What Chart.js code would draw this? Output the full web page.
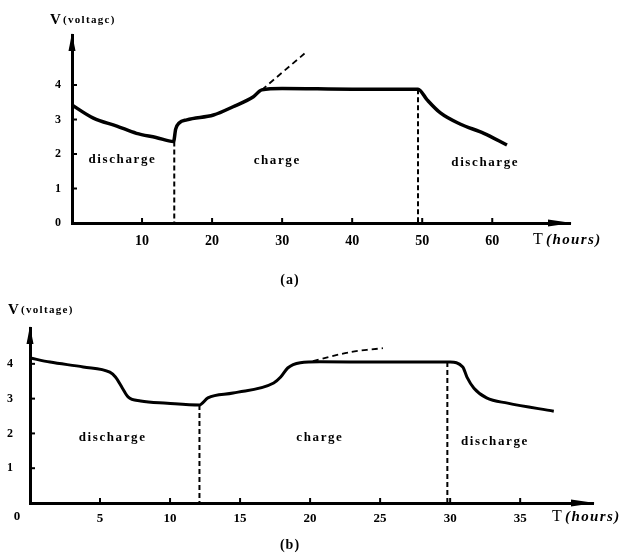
<!DOCTYPE html>
<html>
<head>
<meta charset="utf-8">
<script src="https://cdn.jsdelivr.net/npm/chart.js@4.4.1/dist/chart.umd.min.js"></script>
<style>
  html, body { margin: 0; padding: 0; background: #fff; }
  #wrapA { position: absolute; left: 0; top: 0; width: 630px; height: 295px; }
  #wrapB { position: absolute; left: 0; top: 295px; width: 630px; height: 259px; }
</style>
</head>
<body>
<div id="wrapA"><canvas id="chartA"></canvas></div>
<div id="wrapB"><canvas id="chartB"></canvas></div>
<script>
// (a) voltage vs time
const timeA = [0, 3.05, 6.4, 9.2, 12, 14.5, 14.8, 15.3, 16.4, 20.2, 23, 25.9, 27.1, 30, 40, 49.4, 50.7, 52.6, 55.4, 58.8, 62.1];
const voltA = [3.42, 3.04, 2.81, 2.6, 2.48, 2.36, 2.72, 2.9, 2.99, 3.13, 3.37, 3.66, 3.86, 3.9, 3.88, 3.88, 3.57, 3.19, 2.87, 2.6, 2.26];
const extTimeA = [27.1, 33.3];
const extVoltA = [3.86, 4.93];
const switchA = [14.6, 49.4];
const switchTopA = [2.36, 3.88];
const xTicksA = [10, 20, 30, 40, 50, 60];
const yTicksA = [0, 1, 2, 3, 4];
const phaseA = ['discharge', 'charge', 'discharge'];
const phaseTimeA = [7.2, 29.3, 59];
const phaseVoltA = [1.85, 1.8, 1.74];

// (b) voltage vs time
const timeB = [0, 1.43, 3.8, 5.7, 6.1, 6.6, 7.0, 7.9, 9.8, 12.1, 12.7, 14.5, 17.4, 17.9, 18.4, 19.3, 20.7, 25, 30, 30.9, 31.2, 31.7, 32.6, 34.1, 37.4];
const voltB = [4.17, 4.05, 3.91, 3.76, 3.62, 3.3, 3.05, 2.93, 2.87, 2.82, 3.02, 3.16, 3.45, 3.62, 3.88, 4.03, 4.06, 4.05, 4.05, 3.91, 3.62, 3.3, 3.02, 2.87, 2.64];
const extTimeB = [20.2, 22.9, 25.2];
const extVoltB = [4.08, 4.34, 4.45];
const switchB = [12.1, 29.8];
const switchTopB = [2.82, 4.05];
const xTicksB = [5, 10, 15, 20, 25, 30, 35];
const yTicksB = [1, 2, 3, 4];
const phaseB = ['discharge', 'charge', 'discharge'];
const phaseTimeB = [5.9, 20.7, 33.2];
const phaseVoltB = [1.87, 1.87, 1.75];

const FONT = '"Liberation Serif", "DejaVu Serif", serif';

function pts(xs, ys) {
  return xs.map((x, i) => ({ x: x, y: ys[i] }));
}

const sketch = {
  id: 'sketch',
  afterDraw(chart, args, o) {
    const ctx = chart.ctx;
    const a = chart.chartArea;
    const xs = chart.scales.x;
    const ys = chart.scales.y;
    ctx.save();
    ctx.fillStyle = '#000';
    ctx.strokeStyle = '#000';

    // arrow heads
    ctx.beginPath();
    ctx.moveTo(a.left, a.top - 2);
    ctx.lineTo(a.left - 3.5, a.top + 16);
    ctx.lineTo(a.left + 3.5, a.top + 16);
    ctx.closePath();
    ctx.fill();
    ctx.beginPath();
    ctx.moveTo(a.right + 2, a.bottom);
    ctx.lineTo(a.right - 22, a.bottom - 3.5);
    ctx.lineTo(a.right - 22, a.bottom + 3.5);
    ctx.closePath();
    ctx.fill();

    // tick marks on the inner side
    ctx.lineWidth = 2;
    ys.ticks.forEach(t => {
      if (t.value === 0) return;
      const y = ys.getPixelForValue(t.value);
      ctx.beginPath();
      ctx.moveTo(a.left, y);
      ctx.lineTo(a.left + 5, y);
      ctx.stroke();
    });
    xs.ticks.forEach(t => {
      const x = xs.getPixelForValue(t.value);
      ctx.beginPath();
      ctx.moveTo(x, a.bottom);
      ctx.lineTo(x, a.bottom - 5);
      ctx.stroke();
    });

    // phase labels
    ctx.font = 'bold 13px ' + FONT;
    ctx.letterSpacing = '1.6px';
    ctx.textAlign = 'center';
    ctx.textBaseline = 'middle';
    o.phases.forEach((p, i) => {
      ctx.fillText(p, xs.getPixelForValue(o.phaseT[i]), ys.getPixelForValue(o.phaseV[i]));
    });

    // axis titles
    ctx.textAlign = 'left';
    ctx.letterSpacing = '0px';
    ctx.font = 'bold 15px ' + FONT;
    ctx.fillText('V', o.vx, o.vy);
    ctx.font = 'bold 11px ' + FONT;
    ctx.letterSpacing = '1.3px';
    ctx.fillText(o.vText, o.vx + 13, o.vy);
    ctx.letterSpacing = '0px';
    ctx.font = '16px ' + FONT;
    const tx = a.right + o.tdx;
    ctx.fillText('T', tx, a.bottom + o.tdy);
    ctx.font = 'bold italic 15px ' + FONT;
    ctx.letterSpacing = '1.4px';
    ctx.fillText('(hours)', tx + 13, a.bottom + o.tdy);

    // origin label and panel caption
    ctx.letterSpacing = '0px';
    if (o.origin) {
      ctx.font = 'bold 13px ' + FONT;
      ctx.textAlign = 'center';
      ctx.fillText('0', a.left - 13, a.bottom + 14);
    }
    ctx.font = 'bold 14px ' + FONT;
    ctx.textAlign = 'center';
    ctx.letterSpacing = '1px';
    ctx.fillText(o.caption, o.cx, o.cy);
    ctx.restore();
  }
};

function makeChart(id, p) {
  const datasets = [
    { data: pts(p.time, p.volt), borderColor: '#000', borderWidth: p.lw, pointRadius: 0,
      cubicInterpolationMode: 'monotone', fill: false },
    { data: pts(p.extT, p.extV), borderColor: '#000', borderWidth: 1.8, borderDash: [6, 4],
      pointRadius: 0, tension: 0.3, fill: false }
  ];
  p.sw.forEach((t, i) => {
    datasets.push({ data: pts([t, t], [p.swTop[i], 0]), borderColor: '#000', borderWidth: 2,
      borderDash: [5, 3], pointRadius: 0, fill: false });
  });

  return new Chart(document.getElementById(id), {
    type: 'line',
    data: { datasets: datasets },
    options: {
      responsive: true,
      maintainAspectRatio: false,
      animation: false,
      events: [],
      layout: { padding: { top: p.padTop, right: p.padRight, left: 0, bottom: 0 } },
      plugins: {
        legend: { display: false },
        tooltip: { enabled: false },
        sketch: p.sketch
      },
      scales: {
        x: {
          type: 'linear',
          min: 0,
          max: p.xMax,
          afterBuildTicks: s => { s.ticks = p.xTicks.map(v => ({ value: v })); },
          afterFit: s => { s.height = p.xH; },
          grid: { display: false, drawTicks: false },
          border: { display: true, color: '#000', width: 3 },
          ticks: { color: '#000', padding: p.xPad, font: { family: FONT, weight: 'bold', size: p.xFont },
            maxRotation: 0, autoSkip: false }
        },
        y: {
          type: 'linear',
          min: 0,
          max: p.yMax,
          afterBuildTicks: s => { s.ticks = p.yTicks.map(v => ({ value: v })); },
          afterFit: s => { s.width = p.yW; },
          grid: { display: false, drawTicks: false },
          border: { display: true, color: '#000', width: 3 },
          ticks: { color: '#000', padding: p.yPad, font: { family: FONT, weight: 'bold', size: 12 } }
        }
      }
    },
    plugins: [sketch]
  });
}

makeChart('chartA', {
  time: timeA, volt: voltA, extT: extTimeA, extV: extVoltA, sw: switchA, swTop: switchTopA,
  xTicks: xTicksA, yTicks: yTicksA, xMax: 71.1, yMax: 5.45, lw: 3.5,
  padTop: 35, padRight: 60, xH: 72, yW: 72, xPad: 10, yPad: 11, xFont: 14,
  sketch: { phases: phaseA, phaseT: phaseTimeA, phaseV: phaseVoltA, vText: '(voltagc)',
    vx: 50, vy: 20, tdx: -37, tdy: 17, origin: false, caption: '(a)', cx: 290, cy: 280 }
});

makeChart('chartB', {
  time: timeB, volt: voltB, extT: extTimeB, extV: extVoltB, sw: switchB, swTop: switchTopB,
  xTicks: xTicksB, yTicks: yTicksB, xMax: 40.2, yMax: 5.03, lw: 3,
  padTop: 33, padRight: 37, xH: 51, yW: 30, xPad: 8, yPad: 17, xFont: 13,
  sketch: { phases: phaseB, phaseT: phaseTimeB, phaseV: phaseVoltB, vText: '(voltage)',
    vx: 8, vy: 15, tdx: -41, tdy: 14, origin: true, caption: '(b)', cx: 290, cy: 250 }
});
</script>
</body>
</html>
